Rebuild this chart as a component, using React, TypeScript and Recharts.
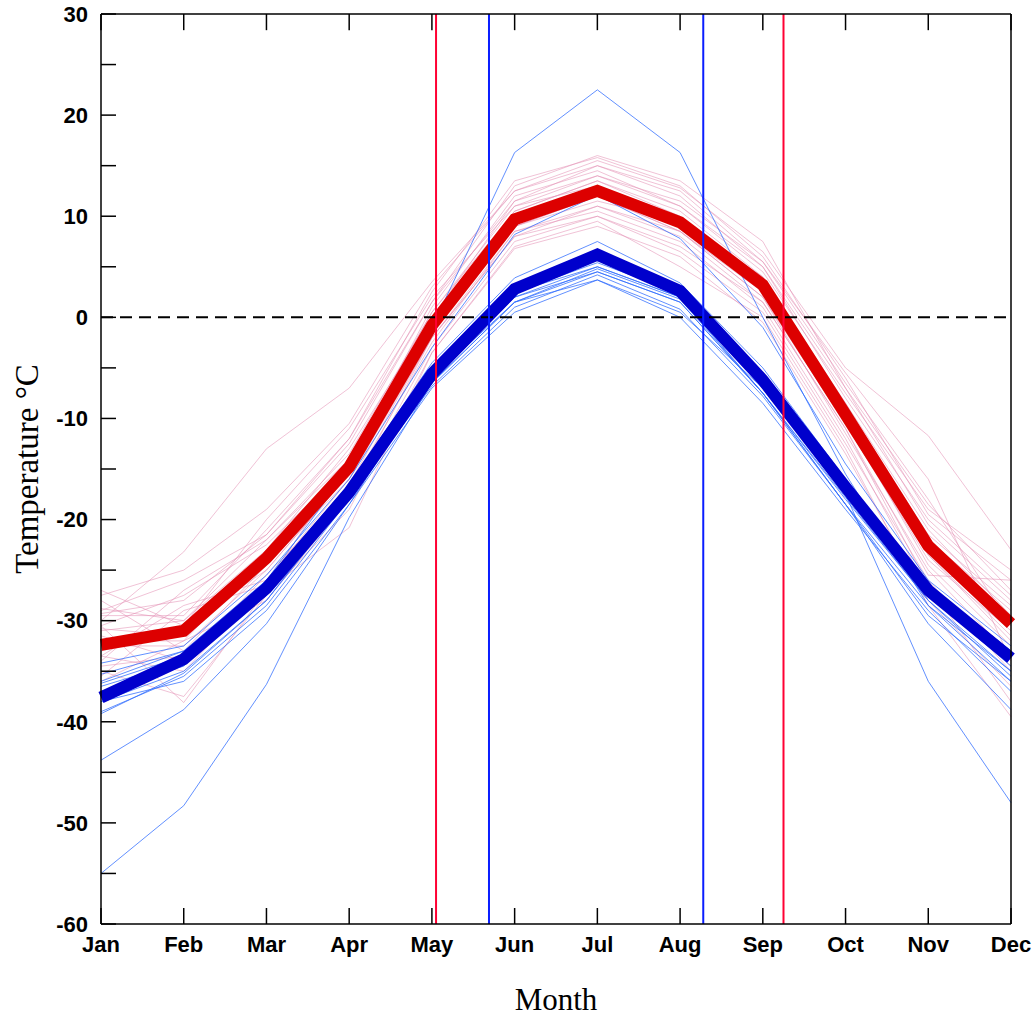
import { LineChart, Line, XAxis, YAxis, ReferenceLine } from 'recharts';

const MONTHS = ['Jan', 'Feb', 'Mar', 'Apr', 'May', 'Jun', 'Jul', 'Aug', 'Sep', 'Oct', 'Nov', 'Dec'];
const MONTH_TICKS = [0, 1, 2, 3, 4, 5, 6, 7, 8, 9, 10, 11];
const TEMP_TICKS = [-60, -55, -50, -45, -40, -35, -30, -25, -20, -15, -10, -5, 0, 5, 10, 15, 20, 25, 30];

// multi-year mean monthly temperatures (°C)
const WARM_MEAN = [-32.4, -31.0, -23.8, -14.8, -0.8, 9.7, 12.5, 9.4, 3.2, -9.6, -22.6, -30.3];
const COLD_MEAN = [-37.6, -33.8, -26.8, -17.3, -5.6, 2.8, 6.2, 2.6, -6.2, -16.8, -27.0, -33.7];

// zero-crossing dates, as fractional month positions
const WARM_CROSSINGS = [4.05, 8.25];
const COLD_CROSSINGS = [4.69, 7.28];

// individual years
const WARM_YEARS = [
  [-30.0, -23.2, -13.0, -7.0, 3.5, 12.5, 15.5, 12.8, 6.5, -5.0, -11.7, -23.0],
  [-27.0, -30.5, -20.0, -11.0, 2.0, 11.0, 14.0, 11.5, 5.5, -6.5, -18.0, -30.5],
  [-29.3, -28.0, -21.5, -12.5, 1.5, 13.0, 16.0, 13.5, 7.5, -7.0, -20.5, -28.0],
  [-28.0, -33.0, -24.5, -16.0, -1.5, 9.0, 12.0, 8.5, 2.0, -10.5, -24.0, -31.0],
  [-34.0, -27.0, -22.0, -13.5, 0.5, 10.5, 13.5, 10.5, 4.0, -8.5, -21.0, -29.5],
  [-33.5, -35.0, -26.5, -16.5, -2.0, 8.0, 11.0, 8.0, 1.5, -11.0, -25.5, -26.0],
  [-30.5, -38.1, -27.0, -20.8, -3.5, 6.8, 9.0, 6.0, -0.5, -13.5, -28.0, -36.5],
  [-32.3, -30.5, -25.0, -15.5, -1.0, 9.5, 12.5, 9.0, 3.0, -9.0, -23.5, -31.5],
  [-35.5, -29.0, -26.5, -14.0, -0.5, 10.0, 13.0, 10.0, 3.5, -9.5, -22.0, -30.0],
  [-28.8, -30.0, -23.0, -13.0, 0.0, 11.5, 15.0, 12.0, 5.0, -8.0, -20.0, -27.5],
  [-31.5, -34.0, -25.5, -17.0, -2.5, 8.5, 10.5, 7.5, 1.0, -12.0, -27.0, -34.5],
  [-30.5, -27.5, -22.5, -14.5, 1.0, 12.0, 14.5, 11.0, 4.5, -7.5, -19.0, -25.0],
  [-33.0, -31.0, -24.5, -15.0, -1.0, 9.0, 11.5, 9.5, 2.5, -10.0, -24.5, -32.5],
  [-36.0, -32.0, -28.0, -18.0, -3.0, 7.5, 10.0, 6.5, 0.5, -12.5, -26.0, -35.0],
  [-29.5, -29.5, -21.0, -12.0, 2.5, 13.5, 15.8, 13.0, 6.0, -6.0, -19.5, -26.0],
  [-32.0, -32.0, -23.5, -15.0, -0.5, 10.0, 12.8, 9.8, 3.0, -9.5, -22.5, -30.5],
  [-34.5, -33.5, -26.0, -16.0, -2.0, 8.5, 11.0, 8.5, 2.0, -11.5, -25.0, -33.5],
  [-27.5, -25.0, -19.0, -10.5, 3.0, 12.5, 15.0, 12.5, 5.5, -5.5, -16.0, -34.0],
  [-30.8, -31.5, -24.0, -14.5, 0.0, 10.5, 13.5, 10.0, 3.5, -8.5, -22.0, -29.0],
  [-33.5, -28.5, -26.0, -17.5, -2.0, 8.0, 10.0, 7.0, 1.5, -11.0, -26.5, -38.0],
  [-31.0, -30.0, -22.0, -14.0, 0.5, 11.0, 13.0, 9.5, 4.0, -9.0, -21.5, -28.5],
  [-35.0, -37.5, -27.5, -19.0, -3.5, 7.0, 9.5, 5.0, 0.0, -13.0, -28.5, -39.5],
  [-29.0, -26.0, -21.5, -12.0, 1.5, 11.5, 14.0, 11.0, 5.0, -7.0, -18.5, -27.0],
  [-32.5, -32.5, -25.0, -15.5, -1.5, 9.0, 12.0, 8.5, 2.5, -10.0, -23.5, -32.0],
];

const COLD_YEARS = [
  [-55.0, -48.3, -36.3, -19.8, -6.5, 2.5, 5.0, 2.0, -7.5, -18.5, -29.5, -36.0],
  [-43.8, -38.8, -30.3, -18.5, -6.0, 2.0, 4.5, 1.5, -7.5, -18.0, -28.0, -35.5],
  [-36.2, -33.5, -26.0, -15.0, -1.0, 16.3, 22.5, 16.3, 0.0, -15.5, -28.5, -35.0],
  [-38.0, -35.0, -28.0, -17.5, -6.0, 1.5, 3.7, 0.5, -7.0, -17.5, -36.0, -48.0],
  [-39.0, -35.5, -28.5, -18.0, -6.5, 1.5, 4.8, 1.8, -7.5, -18.5, -30.3, -38.8],
  [-34.2, -32.5, -25.5, -16.0, -3.0, 8.2, 12.1, 7.8, -1.0, -14.5, -26.0, -32.5],
  [-35.3, -33.0, -26.0, -16.5, -4.5, 3.9, 7.5, 3.4, -5.0, -16.0, -26.5, -33.0],
  [-36.5, -34.0, -27.5, -17.5, -6.0, 2.0, 5.0, 2.0, -7.0, -17.5, -27.5, -34.5],
  [-37.0, -34.5, -27.0, -18.0, -6.5, 1.5, 4.5, 1.5, -7.5, -17.8, -28.0, -35.0],
  [-39.2, -35.2, -28.0, -17.8, -6.8, 1.0, 4.2, 0.8, -7.8, -18.5, -28.5, -36.0],
  [-38.0, -36.0, -29.0, -18.5, -7.0, 0.5, 3.7, 0.0, -8.5, -19.0, -29.0, -37.0],
  [-36.0, -33.0, -27.5, -17.0, -5.0, 2.5, 5.4, 2.4, -6.0, -17.0, -26.5, -33.0],
];

const rows = MONTHS.map((_, i) => {
  const row: Record<string, number> = { m: i, warm: WARM_MEAN[i], cold: COLD_MEAN[i] };
  WARM_YEARS.forEach((s, k) => {
    row[`w${k}`] = s[i];
  });
  COLD_YEARS.forEach((s, k) => {
    row[`c${k}`] = s[i];
  });
  return row;
});

const SANS = '"Liberation Sans", Arial, Helvetica, sans-serif';
const SERIF = '"Liberation Serif", "Times New Roman", serif';
const tickFont = { fill: '#000', fontSize: 22, fontWeight: 'bold', fontFamily: SANS };
const axisStroke = { stroke: '#000', strokeWidth: 1.5 };
const noLabel = () => '';
// length of the month ticks on the top edge, in °C
const TOP_TICK_LEN = 1.6;

export default function App() {
  return (
    <div style={{ position: 'absolute', left: 0, top: 0, width: 1034, height: 1016, background: '#fff' }}>
      <LineChart width={1034} height={1016} data={rows} margin={{ top: 13, right: 22, bottom: 0, left: 0 }}>
        <XAxis
          dataKey="m"
          type="number"
          domain={[0, 11]}
          ticks={MONTH_TICKS}
          interval={0}
          tickFormatter={(v: number) => MONTHS[v]}
          height={92}
          tickSize={-16}
          tickMargin={28}
          axisLine={axisStroke}
          tickLine={axisStroke}
          tick={tickFont}
          label={{
            content: ({ viewBox }: any) => (
              <text
                x={viewBox.x + viewBox.width / 2}
                y={viewBox.y + 86}
                textAnchor="middle"
                fontFamily={SERIF}
                fontSize={31}
                fill="#000"
              >
                Month
              </text>
            ),
          }}
        />
        <XAxis
          xAxisId="top"
          orientation="top"
          dataKey="m"
          type="number"
          domain={[0, 11]}
          ticks={MONTH_TICKS}
          interval={0}
          height={1}
          tickSize={0}
          axisLine={axisStroke}
          tickLine={false}
          tickFormatter={noLabel}
        />
        <YAxis
          type="number"
          domain={[-60, 30]}
          ticks={TEMP_TICKS}
          interval={0}
          tickFormatter={(v: number) => (v % 10 === 0 ? String(v) : '')}
          width={101}
          tickSize={-15}
          tickMargin={28}
          axisLine={axisStroke}
          tickLine={axisStroke}
          tick={tickFont}
          label={{
            content: ({ viewBox }: any) => {
              const cx = viewBox.x + 27;
              const cy = viewBox.y + viewBox.height / 2;
              return (
                <text
                  x={cx}
                  y={cy}
                  transform={`rotate(-90 ${cx} ${cy})`}
                  textAnchor="middle"
                  dominantBaseline="central"
                  fontFamily={SERIF}
                  fontSize={33}
                  fill="#000"
                >
                  Temperature °C
                </text>
              );
            },
          }}
        />
        <YAxis
          yAxisId="right"
          orientation="right"
          type="number"
          domain={[-60, 30]}
          ticks={TEMP_TICKS}
          interval={0}
          width={1}
          tickSize={-15}
          axisLine={axisStroke}
          tickLine={axisStroke}
          tickFormatter={noLabel}
        />

        {WARM_YEARS.map((_, k) => (
          <Line
            key={`w${k}`}
            dataKey={`w${k}`}
            stroke="#e48fb4"
            strokeOpacity={0.55}
            strokeWidth={1}
            dot={false}
            activeDot={false}
            isAnimationActive={false}
          />
        ))}
        {COLD_YEARS.map((_, k) => (
          <Line
            key={`c${k}`}
            dataKey={`c${k}`}
            stroke="#2d6bff"
            strokeOpacity={0.75}
            strokeWidth={1}
            dot={false}
            activeDot={false}
            isAnimationActive={false}
          />
        ))}
        <Line dataKey="warm" stroke="#dd0000" strokeWidth={12} dot={false} activeDot={false} isAnimationActive={false} />
        <Line dataKey="cold" stroke="#0000cc" strokeWidth={12} dot={false} activeDot={false} isAnimationActive={false} />

        {/* inward month ticks along the top frame edge */}
        {MONTH_TICKS.map((m) => (
          <ReferenceLine
            key={`tt${m}`}
            segment={[
              { x: m, y: 30 },
              { x: m, y: 30 - TOP_TICK_LEN },
            ]}
            stroke="#000"
            strokeWidth={1.5}
          />
        ))}
        <ReferenceLine y={0} stroke="#000" strokeWidth={2} strokeDasharray="12 7" />
        {WARM_CROSSINGS.map((x) => (
          <ReferenceLine key={`wx${x}`} x={x} stroke="#ff0033" strokeWidth={2} />
        ))}
        {COLD_CROSSINGS.map((x) => (
          <ReferenceLine key={`cx${x}`} x={x} stroke="#0a1eff" strokeWidth={2} />
        ))}
      </LineChart>
    </div>
  );
}
